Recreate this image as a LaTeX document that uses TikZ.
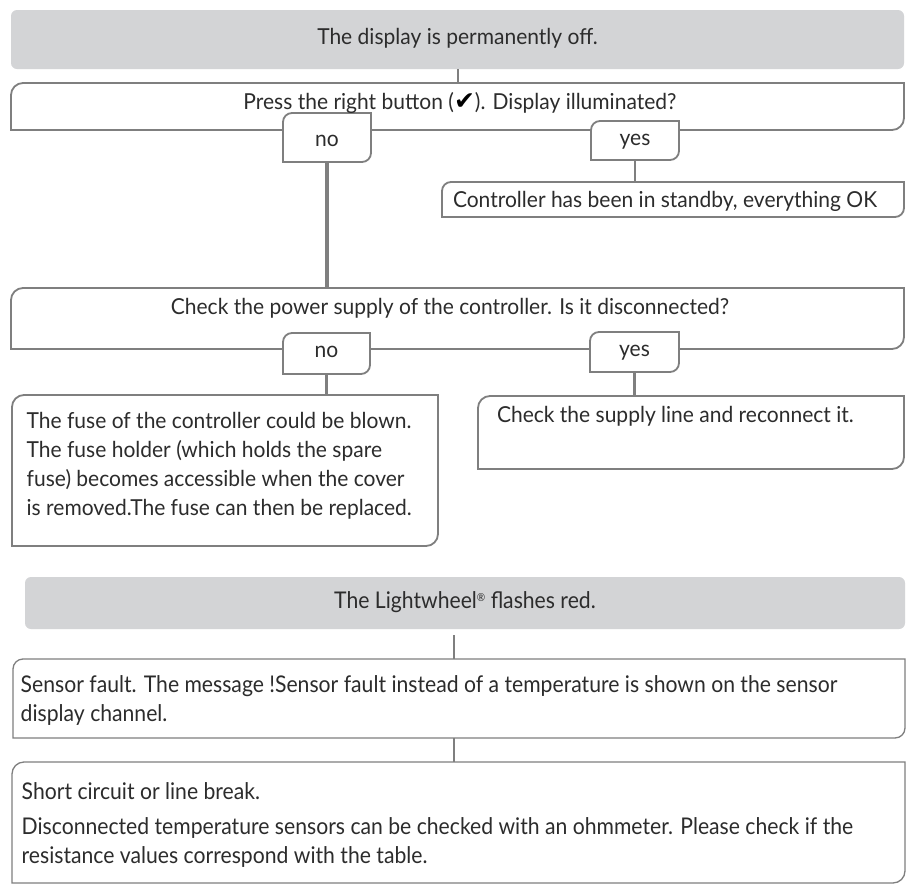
\documentclass[tikz,border=0pt]{standalone}
\usepackage{fontspec}
\setmainfont{Lato}
\newfontfamily\topf{Lato}[FakeStretch=0.955]
\newfontfamily\botf{Lato}[FakeStretch=0.92]
\newfontfamily\symf{DejaVu Sans}
\usetikzlibrary{backgrounds}
\definecolor{lc}{HTML}{7F7F7F}
\definecolor{gf}{HTML}{D3D4D6}
\definecolor{tc}{HTML}{2C2C2C}
% centred text box: width, height, first baseline, text
\newcommand\bxc[4]{\parbox[c][#2pt][t]{#1pt}{\centering\rule{0pt}{#3pt}#4\par}}
% left text box: width, height, first baseline, left pad, text
\newcommand\bxl[5]{\parbox[c][#2pt][t]{#1pt}{\raggedright\leftskip=#4pt\relax\rule{0pt}{#3pt}#5\par}}
% outline with rounded top-left and bottom-right corners
\newcommand\outl[3]{\filldraw[#1] (#2.south west) -- ([yshift=-#3pt]#2.north west) arc[start angle=180,end angle=90,radius=#3pt] -- (#2.north east) -- ([yshift=#3pt]#2.south east) arc[start angle=0,end angle=-90,radius=#3pt] -- cycle;}
\begin{document}
\begin{tikzpicture}[x=1pt,y=1pt,
  bn/.style={inner sep=0pt, outer sep=0pt, anchor=north west, text=tc},
  tf/.style={font=\topf\fontsize{22}{29}\selectfont},
  bf/.style={font=\botf\fontsize{23}{29}\selectfont},
  wb/.style={fill=white, draw=lc, line width=1.8pt},
  wbt/.style={fill=white, draw=lc, line width=1.3pt},
  conn/.style={draw=lc, line width=2.6pt},
  connt/.style={draw=lc, line width=1.4pt}]
\useasboundingbox (0,0) rectangle (906,-887);

% ---- first chart ----
\node[bn,tf] (g1) at (11,-10) {\bxc{893}{59}{34.5}{The display is permanently off.}};
\node[bn,tf] (q1) at (11,-83) {\bxc{893}{47}{26.5}{\hspace*{5pt}Press the right button ({\symf\fontsize{25}{25}\selectfont\color{black}✔}). Display illuminated?}};
\node[bn,tf] (no1) at (283,-113) {\bxc{88}{49}{33}{no}};
\node[bn,tf] (yes1) at (591,-121) {\bxc{88}{39}{24.7}{yes}};
\node[bn,tf] (sb) at (442,-182) {\bxl{462}{35}{25.7}{11}{Controller has been in standby, everything OK}};
\node[bn,tf] (q2) at (11,-288) {\bxc{893}{61}{26.3}{Check the power supply of the controller. Is it disconnected?\hspace*{15pt}}};
\node[bn,tf] (no2) at (283,-333) {\bxc{87}{41}{24.3}{no}};
\node[bn,tf] (yes2) at (590,-332) {\bxc{89}{40}{24.7}{yes}};
\node[bn,tf] (fuse) at (12,-395) {\bxl{426}{151}{33.5}{14.7}{The fuse of the controller could be blown.\\ The fuse holder (which holds the spare\\ fuse) becomes accessible when the cover\\ is removed.The fuse can then be replaced.}};
\node[bn,tf] (sup) at (478,-396) {\bxl{426}{73}{26.7}{19}{Check the supply line and reconnect it.}};

% ---- second chart ----
\node[bn,bf] (g2) at (25,-577) {\bxc{880}{52}{31.3}{The Lightwheel\raisebox{7pt}{\fontsize{11}{11}\selectfont ®} flashes red.}};
\node[bn,bf] (s1) at (13,-659) {\bxl{892}{79}{33}{7.7}{Sensor fault. The message !Sensor fault instead of a temperature is shown on the sensor\\ display channel.}};
\node[bn,bf] (s2) at (12,-762) {\bxl{893}{121}{37.5}{9.7}{Short circuit or line break.\par\vspace{6pt}Disconnected temperature sensors can be checked with an ohmmeter. Please check if the\\ resistance values correspond with the table.}};

\begin{pgfonlayer}{background}
  \fill[white] (0,0) rectangle (906,-887);
  \fill[gf, rounded corners=6pt] (g1.south west) rectangle (g1.north east);
  \outl{wb}{q1}{12}
  \outl{wb}{no1}{9}
  \outl{wb}{yes1}{9}
  \outl{wb}{sb}{9}
  \outl{wb}{q2}{12}
  \outl{wb}{no2}{9}
  \outl{wb}{yes2}{9}
  \outl{wb}{fuse}{12}
  \outl{wb}{sup}{12}
  \fill[gf, rounded corners=6pt] (g2.south west) rectangle (g2.north east);
  \outl{wbt}{s1}{10}
  \outl{wbt}{s2}{12}
\end{pgfonlayer}

% ---- connectors ----
\draw[conn, line width=2pt] (g1.south) -- (g1.south |- q1.north);
\draw[conn, line width=3.2pt] (no1.south) -- (no1.south |- q2.north);
\draw[conn] (yes1.south) -- (yes1.south |- sb.north);
\draw[conn] (no2.south) -- (no2.south |- fuse.north);
\draw[conn] (yes2.south) -- (yes2.south |- sup.north);
\draw[connt] ([xshift=-5pt,yshift=-6pt]s1.north |- g2.south) -- ([xshift=-5pt]s1.north);
\draw[connt] ([xshift=-5pt]s1.south) -- ([xshift=-5pt]s1.south |- s2.north);
\end{tikzpicture}
\end{document}
